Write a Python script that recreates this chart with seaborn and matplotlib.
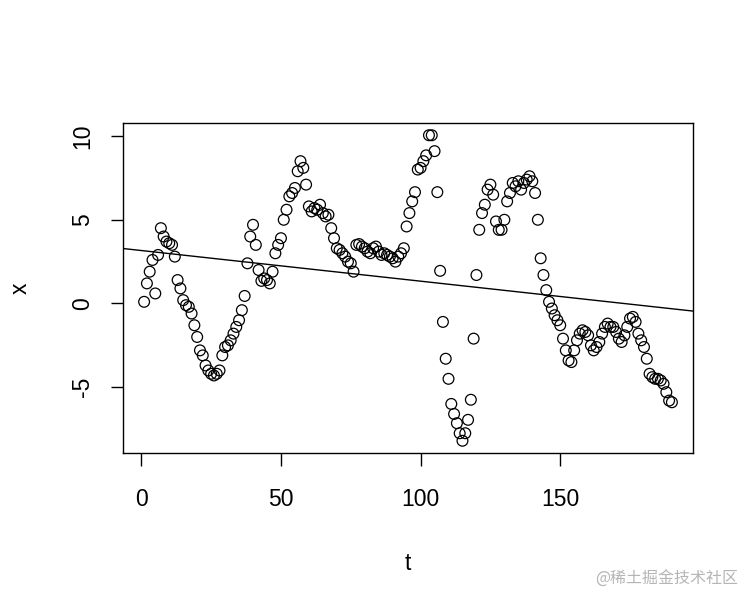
# %%
import numpy as np
import pandas as pd
from matplotlib import pyplot as plt
import seaborn as sns

# %% Data
x_vals = [
    0.1, 1.2, 1.9, 2.6, 0.6, 2.9, 4.5, 4.0, 3.7, 3.6,
    3.5, 2.8, 1.4, 0.9, 0.2, -0.1, -0.2, -0.6, -1.3, -2.0,
    -2.8, -3.1, -3.7, -4.0, -4.2, -4.3, -4.2, -4.0, -3.1, -2.6,
    -2.5, -2.2, -1.8, -1.4, -1.0, -0.4, 0.45, 2.4, 4.0, 4.7,
    3.5, 2.0, 1.35, 1.5, 1.4, 1.2, 1.9, 3.0, 3.5, 3.9,
    5.0, 5.6, 6.4, 6.6, 6.9, 7.9, 8.5, 8.1, 7.1, 5.8,
    5.5, 5.7, 5.6, 5.9, 5.4, 5.2, 5.3, 4.5, 3.9, 3.3,
    3.2, 3.0, 2.8, 2.5, 2.4, 1.9, 3.5, 3.55, 3.4, 3.3,
    3.1, 3.0, 3.3, 3.4, 3.1, 2.9, 3.0, 2.9, 2.8, 2.7,
    2.5, 2.8, 3.0, 3.3, 4.6, 5.4, 6.1, 6.65, 8.0, 8.1,
    8.5, 8.85, 10.05, 10.05, 9.1, 6.65, 1.95, -1.1, -3.3, -4.5,
    -6.0, -6.6, -7.15, -7.75, -8.2, -7.75, -6.95, -5.75, -2.1, 1.7,
    4.4, 5.4, 5.9, 6.8, 7.1, 6.5, 4.9, 4.4, 4.4, 5.0,
    6.1, 6.6, 7.2, 7.0, 7.3, 6.8, 7.2, 7.4, 7.6, 7.3,
    6.6, 5.0, 2.7, 1.7, 0.8, 0.1, -0.3, -0.7, -1.0, -1.3,
    -2.1, -2.8, -3.4, -3.5, -2.8, -2.2, -1.8, -1.6, -1.7, -1.9,
    -2.5, -2.8, -2.6, -2.3, -1.8, -1.4, -1.2, -1.4, -1.4, -1.7,
    -2.1, -2.3, -1.9, -1.4, -0.9, -0.8, -1.1, -1.8, -2.2, -2.6,
    -3.3, -4.2, -4.4, -4.5, -4.5, -4.6, -4.8, -5.3, -5.8, -5.9,
]
t_vals = list(range(1, len(x_vals) + 1))
x_ticks = [0, 50, 100, 150]
y_ticks = [-5, 0, 5, 10]

df = pd.DataFrame({"t": t_vals, "x": x_vals})

# %% Plot
plt.rcParams["font.family"] = ["Liberation Sans", "DejaVu Sans"]
my_dpi = 100
fig = plt.figure(figsize=(756/my_dpi, 606/my_dpi), dpi=my_dpi)
ax = fig.add_axes([0.1627, 0.2525, 0.7540, 0.5445])

sns.scatterplot(data=df, x="t", y="x", ax=ax, marker="o", s=60,
                facecolors="none", edgecolor="black", linewidth=0.9)

# R-style axis padding (4% each side)
span_t = df["t"].max() - df["t"].min()
span_x = df["x"].max() - df["x"].min()
ax.set_xlim(df["t"].min() - 0.04*span_t, df["t"].max() + 0.04*span_t)
ax.set_ylim(df["x"].min() - 0.04*span_x, df["x"].max() + 0.04*span_x)

# abline(lm(x ~ t))
sns.regplot(data=df, x="t", y="x", ax=ax, scatter=False, ci=None,
            truncate=False, color="black", line_kws={"linewidth": 1})

ax.set_xticks(x_ticks)
ax.set_yticks(y_ticks)
ax.set_yticklabels([str(v) for v in y_ticks], rotation=90, va="center")
ax.tick_params(direction="out", length=9, width=1, labelsize=16.5, colors="black")
ax.tick_params(axis="x", pad=16)
ax.tick_params(axis="y", pad=12)
for sp in ax.spines.values():
    sp.set_linewidth(1)
    sp.set_color("black")
ax.set_xlabel("t", fontsize=16.5, labelpad=30)
ax.set_ylabel("x", fontsize=16.5, labelpad=28)

fig.text(0.976, 0.045, "@稀土掘金技术社区", ha="right", va="center",
         fontsize=11.5, color="#b5b5b5",
         family=["Noto Sans CJK SC", "DejaVu Sans"])

plt.savefig("out.png", dpi=my_dpi)
plt.close()
